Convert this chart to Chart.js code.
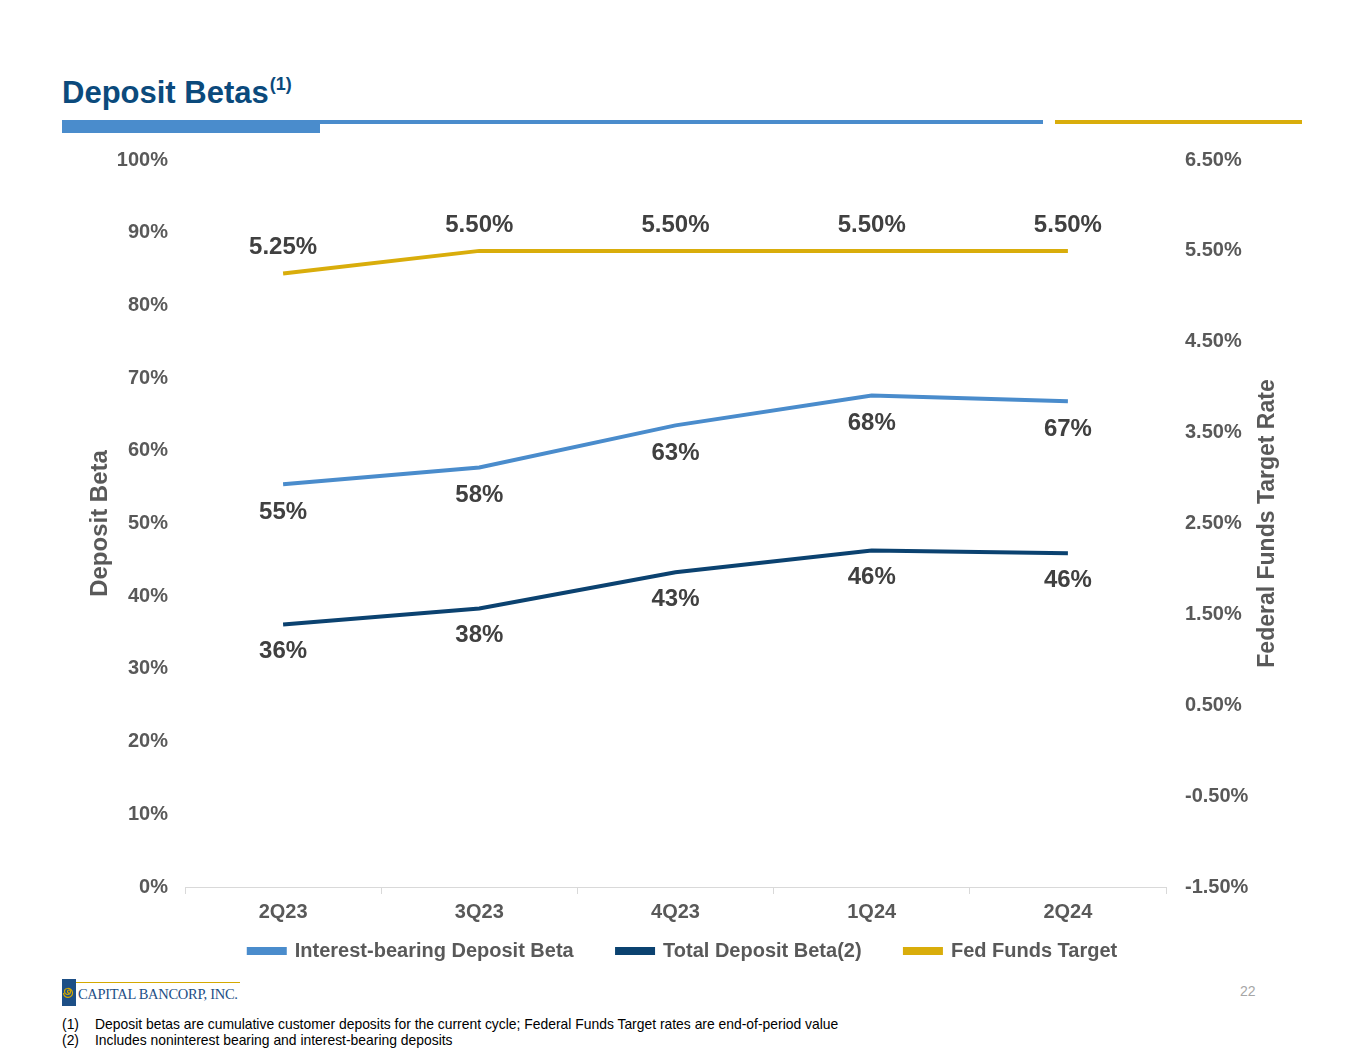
<!DOCTYPE html>
<html>
<head>
<meta charset="utf-8">
<script src="https://cdn.jsdelivr.net/npm/chart.js@4.4.1/dist/chart.umd.min.js"></script>
<style>
  body { margin: 0; width: 1365px; height: 1055px; background: #fff; position: relative; overflow: hidden; font-family: "Liberation Sans", Arial, sans-serif; }
  #title { position: absolute; left: 62px; top: 75px; font-size: 31px; font-weight: bold; color: #0b4a7c; white-space: nowrap; }
  #title sup { font-size: 18px; vertical-align: baseline; position: relative; top: -13px; margin-left: 1px; }
  .bar { position: absolute; }
  #wrap { position: absolute; left: 0; top: 137px; width: 1365px; height: 834px; }
  #logo { position: absolute; left: 62px; top: 979px; height: 27px; }
  #logo .blk { position: absolute; left: 0; top: 0; width: 14px; height: 27px; background: #1d4f86; }
  #logo .gold { position: absolute; left: 14px; top: 3px; width: 164px; height: 1px; background: #d4a900; }
  #logo .txt { position: absolute; left: 16px; top: 7px; white-space: nowrap; font-family: "Liberation Serif", "DejaVu Serif", serif; font-size: 14.5px; color: #1d4f86; letter-spacing: -0.3px; }
  #page { position: absolute; left: 1240px; top: 983px; font-size: 14px; color: #a6a6a6; }
  .fn { position: absolute; left: 62px; font-size: 13.9px; color: #000; white-space: nowrap; }
  .fn span { display: inline-block; width: 33px; }
</style>
</head>
<body>
<div id="title">Deposit Betas<sup>(1)</sup></div>
<div class="bar" style="left:62px;top:120px;width:258px;height:13px;background:#4a8ccc;"></div>
<div class="bar" style="left:320px;top:120px;width:723px;height:4px;background:#4a8ccc;"></div>
<div class="bar" style="left:1055px;top:120px;width:247px;height:4px;background:#d9ad0b;"></div>
<div id="wrap"><canvas id="BetaChart"></canvas></div>
<div id="logo">
  <div class="blk">
    <svg width="14" height="27" viewBox="0 0 14 27"><path d="M7 14 a1.5 1.5 0 1 1 1.5 -1.5 a3 3 0 1 1 -3 -3 a4.5 4.5 0 1 1 -4 4.5" fill="none" stroke="#d4a900" stroke-width="1.2"/></svg>
  </div>
  <div class="gold"></div>
  <div class="txt">CAPITAL BANCORP, INC.</div>
</div>
<div id="page">22</div>
<div class="fn" style="top:1016px;"><span>(1)</span>Deposit betas are cumulative customer deposits for the current cycle; Federal Funds Target rates are end-of-period value</div>
<div class="fn" style="top:1032px;"><span>(2)</span>Includes noninterest bearing and interest-bearing deposits</div>

<script>
var quarters = ['2Q23', '3Q23', '4Q23', '1Q24', '2Q24'];
var interestBearingBeta = [55.4, 57.7, 63.5, 67.6, 66.8];
var interestBearingLabels = ['55%', '58%', '63%', '68%', '67%'];
var totalBeta = [36.1, 38.3, 43.3, 46.3, 45.9];
var totalLabels = ['36%', '38%', '43%', '46%', '46%'];
var fedFunds = [5.25, 5.50, 5.50, 5.50, 5.50];
var fedFundsLabels = ['5.25%', '5.50%', '5.50%', '5.50%', '5.50%'];

var tickColor = '#595959';
var font = 'Liberation Sans';

// draws the value labels next to each point
var pointLabels = {
  id: 'pointLabels',
  afterDatasetsDraw: function (chart) {
    var ctx = chart.ctx;
    ctx.save();
    ctx.font = 'bold 24px "' + font + '"';
    ctx.fillStyle = '#404040';
    ctx.textAlign = 'center';
    ctx.textBaseline = 'middle';
    chart.data.datasets.forEach(function (ds, i) {
      var meta = chart.getDatasetMeta(i);
      meta.data.forEach(function (pt, j) {
        ctx.fillText(ds.labels[j], pt.x, pt.y + ds.labelOffset);
      });
    });
    ctx.restore();
  }
};

// right axis title, reading bottom to top like the left one
var rightTitle = {
  id: 'rightTitle',
  afterDraw: function (chart) {
    var ctx = chart.ctx;
    var area = chart.chartArea;
    ctx.save();
    ctx.translate(1268, (area.top + area.bottom) / 2);
    ctx.rotate(-Math.PI / 2);
    ctx.font = 'bold 23px "' + font + '"';
    ctx.fillStyle = tickColor;
    ctx.textAlign = 'center';
    ctx.textBaseline = 'middle';
    ctx.fillText('Federal Funds Target Rate', 0, 0);
    ctx.restore();
  }
};

var ctx = document.getElementById('BetaChart').getContext('2d');
var betaChart = new Chart(ctx, {
  type: 'line',
  data: {
    labels: quarters,
    datasets: [{
      label: 'Interest-bearing Deposit Beta',
      data: interestBearingBeta,
      labels: interestBearingLabels,
      labelOffset: 28,
      borderColor: '#4a8ccc',
      backgroundColor: '#4a8ccc',
      borderWidth: 4,
      pointRadius: 0,
      yAxisID: 'y'
    }, {
      label: 'Total Deposit Beta(2)',
      data: totalBeta,
      labels: totalLabels,
      labelOffset: 27,
      borderColor: '#0b4270',
      backgroundColor: '#0b4270',
      borderWidth: 4,
      pointRadius: 0,
      yAxisID: 'y'
    }, {
      label: 'Fed Funds Target',
      data: fedFunds,
      labels: fedFundsLabels,
      labelOffset: -26,
      borderColor: '#d9ad0b',
      backgroundColor: '#d9ad0b',
      borderWidth: 4,
      pointRadius: 0,
      yAxisID: 'y2'
    }]
  },
  options: {
    responsive: true,
    maintainAspectRatio: false,
    animation: false,
    layout: { padding: { left: 86, right: 85, top: 19, bottom: 0 } },
    plugins: {
      tooltip: { enabled: false },
      legend: {
        position: 'bottom',
        labels: {
          boxWidth: 36,
          boxHeight: 4,
          padding: 10,
          color: tickColor,
          font: { family: font, size: 20, weight: 'bold' },
          // trailing spaces widen the gap between legend items
          generateLabels: function (chart) {
            var items = Chart.defaults.plugins.legend.labels.generateLabels(chart);
            items.forEach(function (it, i) {
              if (i < items.length - 1) it.text = it.text + '      ';
            });
            return items;
          }
        }
      }
    },
    scales: {
      x: {
        offset: true,
        grid: { offset: true, drawOnChartArea: false, color: '#d9d9d9', tickLength: 7 },
        border: { color: '#d9d9d9' },
        ticks: { color: tickColor, padding: 6, font: { family: font, size: 20, weight: 'bold' } },
        afterFit: function (s) { s.height = 44; }
      },
      y: {
        position: 'left',
        min: 0, max: 100,
        grid: { display: false },
        border: { display: false },
        ticks: {
          stepSize: 10, padding: 9, color: tickColor,
          font: { family: font, size: 20, weight: 'bold' },
          callback: function (v) { return v + '%'; }
        },
        title: { display: true, text: 'Deposit Beta', color: tickColor, padding: 0, font: { family: font, size: 24, weight: 'bold' } },
        afterFit: function (s) { s.width = 99; }
      },
      y2: {
        position: 'right',
        min: -1.5, max: 6.5,
        grid: { display: false },
        border: { display: false },
        ticks: {
          stepSize: 1, padding: 11, color: tickColor,
          font: { family: font, size: 20, weight: 'bold' },
          callback: function (v) { return v.toFixed(2) + '%'; }
        },
        afterFit: function (s) { s.width = 114; }
      }
    }
  },
  plugins: [pointLabels, rightTitle]
});
</script>
</body>
</html>
